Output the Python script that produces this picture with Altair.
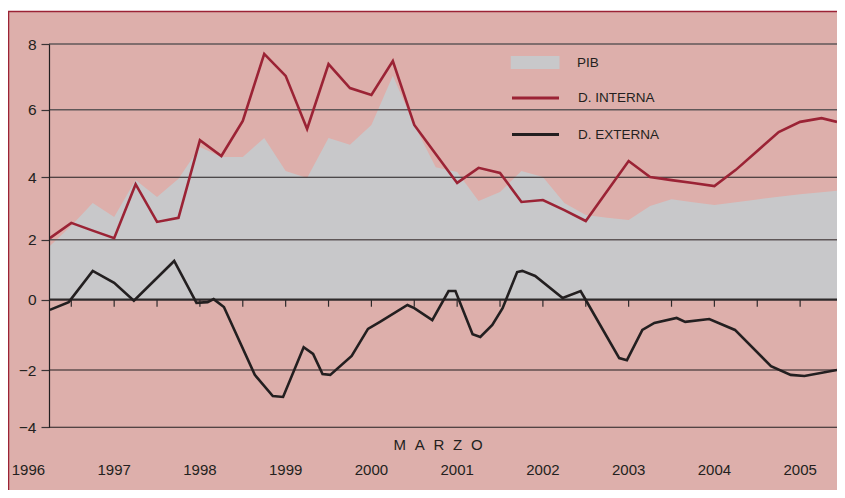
import altair as alt
import pandas as pd

# ---------------- data ----------------
quarters = [1996.25, 1996.5, 1996.75, 1997.0, 1997.25, 1997.5, 1997.75, 1998.0,
            1998.25, 1998.5, 1998.75, 1999.0, 1999.25, 1999.5, 1999.75, 2000.0,
            2000.25, 2000.5, 2000.75, 2001.0, 2001.25, 2001.5, 2001.75, 2002.0,
            2002.25, 2002.5, 2002.75, 2003.0, 2003.25, 2003.5, 2003.75, 2004.0,
            2004.25, 2004.5, 2004.75, 2005.0, 2005.25, 2005.43]

pib = [1.79, 2.45, 3.18, 2.73, 3.91, 3.37, 3.95, 4.90,
       4.60, 4.60, 5.16, 4.19, 3.98, 5.16, 4.96, 5.55,
       7.03, 5.55, 4.30, 4.16, 3.24, 3.53, 4.19, 4.01,
       3.18, 2.79, 2.70, 2.63, 3.08, 3.30, 3.20, 3.11,
       3.20, 3.29, 3.38, 3.46, 3.52, 3.57]

d_interna = [2.05, 2.54, 2.29, 2.05, 3.78, 2.57, 2.70, 5.10,
             4.63, 5.67, 7.70, 7.03, 5.43, 7.39, 6.66, 6.45,
             7.48, 5.55, 4.69, 3.82, 4.28, 4.13, 3.21, 3.27,
             2.95, 2.60, 3.56, 4.48, 4.01, 3.91, 3.82, 3.72,
             4.22, 4.78, 5.34, 5.64, 5.75, 5.64]

ext_t = [1996.25, 1996.47, 1996.75, 1997.0, 1997.23, 1997.70, 1997.96, 1998.09,
         1998.16, 1998.28, 1998.64, 1998.85, 1998.97, 1999.21, 1999.32, 1999.43,
         1999.52, 1999.77, 1999.96, 2000.10, 2000.42, 2000.50, 2000.71, 2000.90,
         2000.98, 2001.18, 2001.27, 2001.41, 2001.53, 2001.70, 2001.76, 2001.91,
         2002.23, 2002.44, 2002.48, 2002.89, 2002.98, 2003.16, 2003.30, 2003.56,
         2003.66, 2003.94, 2004.24, 2004.66, 2004.89, 2005.05, 2005.43]
d_externa = [-0.29, -0.07, 0.96, 0.56, -0.03, 1.29, -0.09, -0.07,
             0.02, -0.21, -2.17, -2.91, -2.94, -1.35, -1.54, -2.14,
             -2.17, -1.60, -0.83, -0.63, -0.15, -0.24, -0.58, 0.29,
             0.29, -0.98, -1.06, -0.72, -0.24, 0.92, 0.96, 0.79,
             0.06, 0.29, 0.09, -1.66, -1.72, -0.86, -0.66, -0.52,
             -0.63, -0.55, -0.86, -1.89, -2.17, -2.21, -2.00]

years = [1996, 1997, 1998, 1999, 2000, 2001, 2002, 2003, 2004, 2005]
half_year_ticks = [1996.5, 1997.0, 1997.5, 1998.0, 1998.5, 1999.0, 1999.5, 2000.0,
                   2000.5, 2001.0, 2001.5, 2002.0, 2002.5, 2003.0, 2003.5, 2004.0,
                   2004.5, 2005.0]
y_ticks = [-4, -2, 0, 2, 4, 6, 8]
grid_light = [8, 6, 2]
grid_dark = [4, -2, -4]
series_names = ["PIB", "D. INTERNA", "D. EXTERNA"]
x_title = "M\u2002\u200aA\u2002\u200aR\u2002\u200aZ\u2002\u200aO"

# ---------------- styles ----------------
PINK = "#DDAFAB"
GREY = "#C8C8CA"
RED = "#9B2335"
BLACK = "#231F20"
FONT = "Liberation Sans, Arial, sans-serif"
W, H = 788, 383

xscale = alt.Scale(domain=[1996.24, 2005.43], nice=False, zero=False)
yscale = alt.Scale(domain=y_ticks, range=[383.3, 326, 255.7, 195.7, 133.3, 65.7, 0],
                   nice=False, zero=False)
yaxis = alt.Axis(values=y_ticks, title=None, grid=False, tickSize=8, tickColor="#3a3536",
                 tickWidth=1.2, domainColor=BLACK, domainWidth=1.2, labelFont=FONT,
                 labelFontSize=15.5, labelColor=BLACK, labelPadding=5, zindex=1)


def X(field):
    return alt.X(field, type="quantitative", scale=xscale, axis=None)


def Y(field):
    return alt.Y(field, type="quantitative", scale=yscale, axis=yaxis)


pib_df = pd.DataFrame({"t": quarters, "v": pib, "s": series_names[0]})
int_df = pd.DataFrame({"t": quarters, "v": d_interna, "s": series_names[1]})
ext_df = pd.DataFrame({"t": ext_t, "v": d_externa, "s": series_names[2]})

fill_legend = alt.Legend(orient="none", legendX=461.5, legendY=11.5, title=None,
                         symbolType="M-1,-0.265H1V0.265H-1Z", symbolSize=2401,
                         symbolStrokeWidth=0, symbolOpacity=1, clipHeight=14,
                         labelOffset=17.5, labelFont=FONT, labelFontSize=13.5,
                         labelColor=BLACK, padding=0)
stroke_legend = alt.Legend(orient="none", legendX=461.5, legendY=47, title=None,
                           symbolType="stroke", symbolSize=2209, symbolStrokeWidth=3,
                           symbolOpacity=1, clipHeight=14, rowPadding=22.5,
                           labelOffset=17.5, labelFont=FONT, labelFontSize=13.5,
                           labelColor=BLACK, padding=0)
stroke_scale = alt.Scale(domain=series_names[1:], range=[RED, BLACK])

bg = alt.Chart(pd.DataFrame({"k": [0]})).mark_rect(
    fill=PINK, stroke=RED, strokeWidth=1.5
).encode(x=alt.value(-40.5), x2=alt.value(900), y=alt.value(-32.5), y2=alt.value(500))

area = alt.Chart(pib_df).mark_area(opacity=1, interpolate="linear").encode(
    x=X("t"), y=Y("v"),
    fill=alt.Fill("s:N", scale=alt.Scale(domain=series_names[:1], range=[GREY]),
                  legend=fill_legend),
)

grid1 = alt.Chart(pd.DataFrame({"v": grid_light})).mark_rule(
    color="#5f5758", strokeWidth=1.6
).encode(y=Y("v"), x=alt.value(0), x2=alt.value(W))
grid2 = alt.Chart(pd.DataFrame({"v": grid_dark})).mark_rule(
    color=BLACK, strokeWidth=1.1
).encode(y=Y("v"), x=alt.value(0), x2=alt.value(W))
zero = alt.Chart(pd.DataFrame({"v": [0]})).mark_rule(
    color="#2e2a2b", strokeWidth=2.2
).encode(y=Y("v"), x=alt.value(0), x2=alt.value(W))

ticks = alt.Chart(pd.DataFrame({"t": half_year_ticks, "a": 0, "b": -0.2})).mark_rule(
    color="#2e2a2b", strokeWidth=1.2
).encode(x=X("t"), y=Y("a"), y2=alt.Y2("b"))

line_int = alt.Chart(int_df).mark_line(strokeWidth=2.6).encode(
    x=X("t"), y=Y("v"),
    stroke=alt.Stroke("s:N", scale=stroke_scale, legend=stroke_legend),
)
line_ext = alt.Chart(ext_df).mark_line(strokeWidth=2.6).encode(
    x=X("t"), y=Y("v"),
    stroke=alt.Stroke("s:N", scale=stroke_scale, legend=stroke_legend),
)

year_text = alt.Chart(pd.DataFrame({"yr": years, "lbl": [str(y) for y in years]})).mark_text(
    font=FONT, fontSize=15, color=BLACK, align="center", baseline="middle"
).encode(x=X("yr"), y=alt.value(426), text="lbl:N")

marzo = alt.Chart(pd.DataFrame({"lbl": [x_title]})).mark_text(
    font=FONT, fontSize=15, color=BLACK, align="center", baseline="middle"
).encode(x=alt.value(389), y=alt.value(401),
         text=alt.Text("lbl:N"))

chart = alt.layer(
    bg, area, grid1, grid2, zero, ticks, line_int, line_ext, year_text, marzo
).resolve_scale(fill="independent", stroke="shared").properties(
    width=W, height=H,
    autosize=alt.AutoSizeParams(type="none"),
    padding={"left": 41, "top": 36, "right": 0, "bottom": 63},
    background="white",
).configure_view(stroke=None)

chart.save("out.html", embed_options={"renderer": "svg", "actions": False})
